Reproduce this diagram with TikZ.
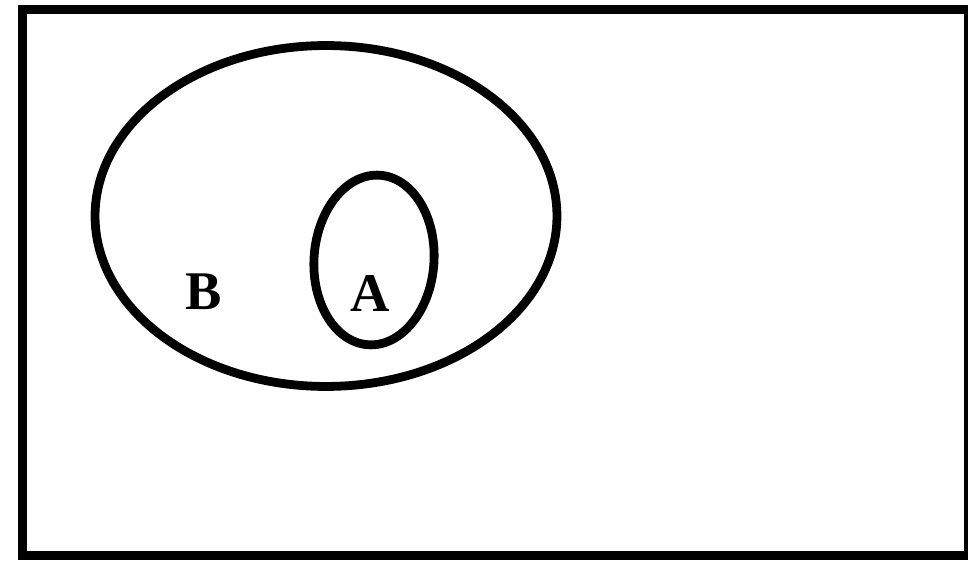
\documentclass[tikz,border=0pt]{standalone}
\usepackage{fontspec}
\setmainfont{Liberation Serif}
\usetikzlibrary{shapes.geometric}
\begin{document}
\begin{tikzpicture}[x=0.02cm,y=-0.02cm,
  setline/.style={draw=black, line width=5pt, ellipse, inner sep=0pt, outer sep=0pt},
  lbl/.style={font=\fontsize{31}{36}\selectfont\bfseries, inner sep=0pt}]
\useasboundingbox (0,0) rectangle (968,567);
\node[draw=black, line width=5pt, rectangle, inner sep=0pt, minimum width=946*0.02cm, minimum height=546*0.02cm, anchor=north west] (U) at (18,5) {};
\node[setline, minimum width=9.24cm, minimum height=6.82cm] (B) at (326,216) {};
\node[setline, minimum width=2.4cm, minimum height=3.4cm, rotate=-4] (A) at (374,260) {};
\node[lbl] (lA) at (370,294) {A};
\node[lbl] (lB) at (204,292) {B};
\end{tikzpicture}
\end{document}
